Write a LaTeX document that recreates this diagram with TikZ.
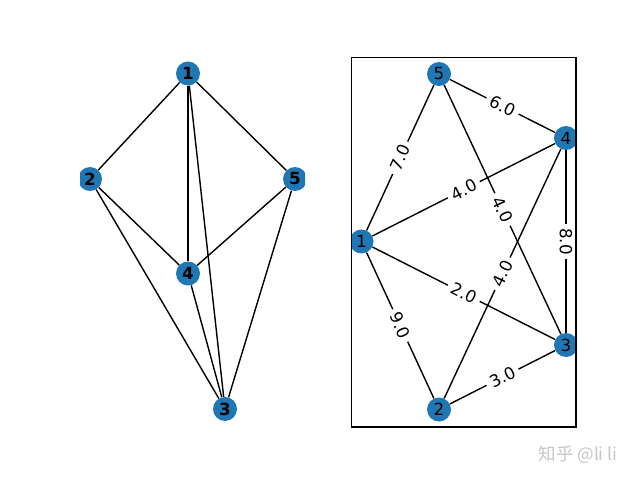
\documentclass[tikz,border=0pt]{standalone}
\usepackage{fontspec}
\setmainfont{DejaVu Sans}
\newfontfamily\cjkfont{Noto Sans CJK SC}
\usepackage{tikz}
\usetikzlibrary{positioning}
\usepackage{xcolor}
\definecolor{nxblue}{HTML}{1F77B4}

\begin{document}
\begin{tikzpicture}[
  x=1pt, y=1pt,
  vertex/.style={circle, fill=nxblue, minimum size=24pt, inner sep=0pt,
                 font=\fontsize{16.7}{20}\selectfont},
  boldvertex/.style={vertex, font=\fontsize{16.7}{20}\selectfont\bfseries},
  edge/.style={line width=1.4pt, black},
  weight/.style={midway, sloped, fill=white, inner xsep=4.5pt, inner ysep=2pt,
                 font=\fontsize{16.7}{20}\selectfont},
  frame/.style={line width=1.1pt, black}
]
\useasboundingbox (0,0) rectangle (640,480);

% left graph, no frame, nodes cut at the axes
\begin{scope}
\clip (80,53) rectangle (305,422.5);
\node[boldvertex] (a1) at (188,406.5) {1};
\node[boldvertex] (a2) at (90,301) {2};
\node[boldvertex] (a5) at (295,301) {5};
\node[boldvertex] (a4) at (188,206.5) {4};
\node[boldvertex] (a3) at (225,71) {3};

\draw[edge] (a1) -- (a2);
\draw[edge] (a1) -- (a5);
\draw[edge] (a1) -- (a4);
\draw[edge] (a1) -- (a3);
\draw[edge] (a2) -- (a4);
\draw[edge] (a2) -- (a3);
\draw[edge] (a5) -- (a4);
\draw[edge] (a5) -- (a3);
\draw[edge] (a4) -- (a3);
\end{scope}

% right graph with weights
\begin{scope}
\clip (351.5,53) rectangle (576,422.5);
\node[vertex] (b5) at (439,406) {5};
\node[vertex] (b4) at (566,342) {4};
\node[vertex] (b1) at (361.5,238.5) {1};
\node[vertex] (b3) at (566,135) {3};
\node[vertex] (b2) at (439,70.5) {2};

\draw[edge] (b1) -- node[weight] {7.0} (b5);
\draw[edge] (b5) -- node[weight] {6.0} (b4);
\draw[edge] (b1) -- node[weight] {4.0} (b4);
\draw[edge] (b5) -- node[weight] {4.0} (b3);
\draw[edge] (b4) -- node[weight] {8.0} (b3);
\draw[edge] (b1) -- node[weight] {2.0} (b3);
\draw[edge] (b2) -- node[weight] {4.0} (b4);
\draw[edge] (b1) -- node[weight] {9.0} (b2);
\draw[edge] (b2) -- node[weight] {3.0} (b3);
\end{scope}
\draw[frame] (351.5,53) rectangle (576,422.5);

% watermark
\node[text=black!22, font=\cjkfont\fontsize{17.5}{20}\selectfont] (mark) at (578,25) {知乎 @li li};

\end{tikzpicture}
\end{document}
